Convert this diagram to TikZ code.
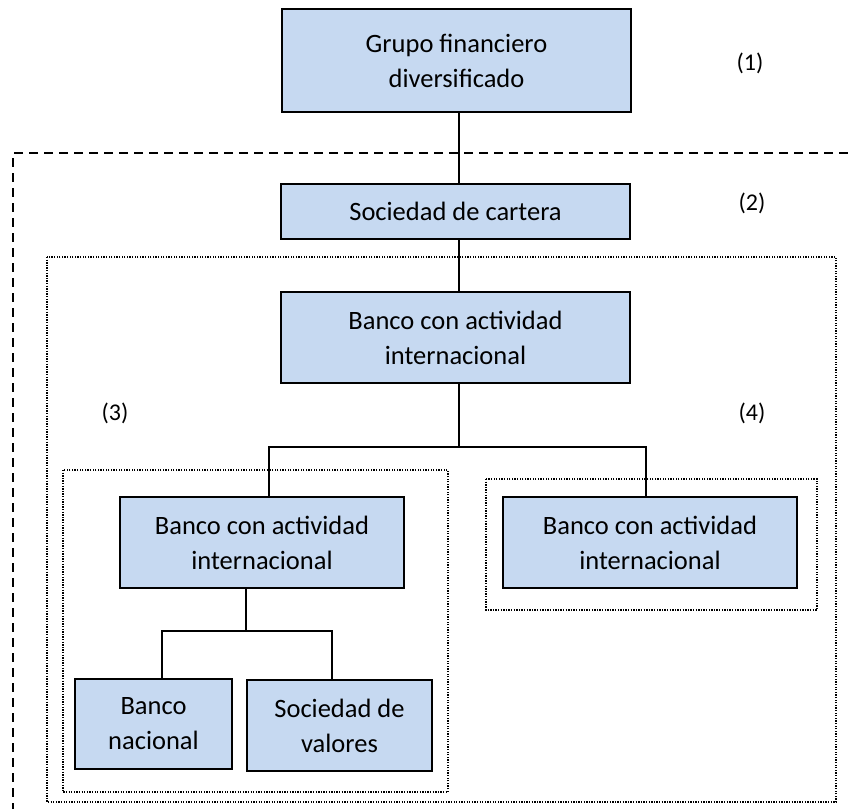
\documentclass[tikz,border=0pt]{standalone}
\usepackage{fontspec}
\setmainfont{Carlito}
\begin{document}
\begin{tikzpicture}[x=1pt,y=-1pt,
  orgbox/.style={draw=black, line width=2pt, fill=boxblue, align=center,
    inner sep=0pt, font=\fontsize{26.5}{35}\selectfont},
  link/.style={draw=black, line width=2pt},
  zone/.style={draw=black, line width=1.5pt, dash pattern=on 1.3pt off 1.3pt},
  outer/.style={draw=black, line width=2pt, dash pattern=on 9pt off 6pt},
  tag/.style={font=\fontsize{24}{28}\selectfont}]
\definecolor{boxblue}{HTML}{C6D9F1}
\useasboundingbox (0,0) rectangle (848,809);

% group boundaries
\draw[outer] (848,153) -- (13,153) -- (13,809);
\draw[zone] (47,257) rectangle (836,802);
\draw[zone] (63,470) rectangle (448,792);
\draw[zone] (486,479) rectangle (817,610);

% entities
\node[orgbox, minimum width=349pt, minimum height=103pt] (top) at (456.5,60.5) {Grupo financiero\\diversificado};
\node[orgbox, minimum width=349pt, minimum height=55pt] (soc) at (455.5,211.5) {Sociedad de cartera};
\node[orgbox, minimum width=349pt, minimum height=91pt] (bank) at (455.5,337.5) {Banco con actividad\\internacional};
\node[orgbox, minimum width=284pt, minimum height=91pt] (lc) at (262,542.5) {Banco con actividad\\internacional};
\node[orgbox, minimum width=294pt, minimum height=91pt] (rc) at (650,542.5) {Banco con actividad\\internacional};
\node[orgbox, minimum width=157pt, minimum height=90pt] (bn) at (153.5,724) {Banco\\nacional};
\node[orgbox, minimum width=185pt, minimum height=91pt] (sv) at (339.5,725.5) {Sociedad de\\valores};

% connector guide points
\coordinate (spine) at (459,0);
\coordinate (bar) at (0,447);
\coordinate (lx) at (269,0);
\coordinate (rx) at (646,0);
\coordinate (sub) at (246,0);
\coordinate (subbar) at (0,631);
\coordinate (bnx) at (162,0);
\coordinate (svx) at (332,0);

% connectors
\draw[link] (top.south -| spine) -- (soc.north -| spine);
\draw[link] (soc.south -| spine) -- (bank.north -| spine);
\draw[link] (bank.south -| spine) -- (spine |- bar);
\draw[link] (lc.north -| lx) -- (lx |- bar) -- (rx |- bar) -- (rc.north -| rx);
\draw[link] (lc.south -| sub) -- (sub |- subbar);
\draw[link] (bn.north -| bnx) -- (bnx |- subbar) -- (svx |- subbar) -- (sv.north -| svx);

% level labels
\node[tag] (l1) at (750,63) {(1)};
\node[tag] (l2) at (752,203) {(2)};
\node[tag] (l3) at (115,413) {(3)};
\node[tag] (l4) at (752,413) {(4)};
\end{tikzpicture}
\end{document}
